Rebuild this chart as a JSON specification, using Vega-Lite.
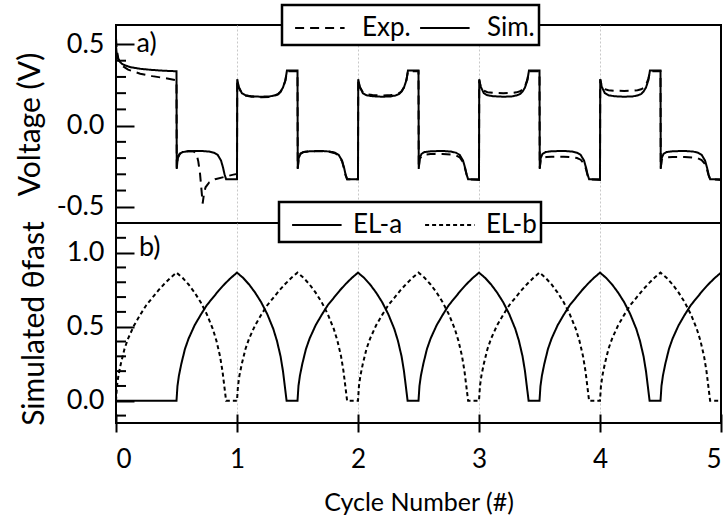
{
"$schema":"https://vega.github.io/schema/vega-lite/v6.json",
"background":"white",
"padding":{"left":14,"top":2,"right":4,"bottom":4},
"bounds":"flush",
"spacing":0,
"config":{
 "font":"Lato",
 "view":{"stroke":"black","strokeWidth":2},
 "axis":{"labelFont":"Lato","titleFont":"Lato","labelColor":"black","titleColor":"black","titleFontWeight":"normal","tickColor":"black","domainColor":"black","labelOverlap":false},
 "legend":{"labelFont":"Lato","labelColor":"black","strokeWidth":2.5}
},
"datasets":{
"volt":[
{"x":0,"v":0.49,"s":"Sim."},{"x":0.005,"v":0.45,"s":"Sim."},{"x":0.015,"v":0.415,"s":"Sim."},{"x":0.03,"v":0.395,"s":"Sim."},{"x":0.05,"v":0.38,"s":"Sim."},{"x":0.08,"v":0.37,"s":"Sim."},{"x":0.12,"v":0.36,"s":"Sim."},{"x":0.2,"v":0.35,"s":"Sim."},{"x":0.3,"v":0.343,"s":"Sim."},{"x":0.4,"v":0.338,"s":"Sim."},{"x":0.5,"v":0.335,"s":"Sim."},
{"x":0.502,"v":-0.267,"s":"Sim."},{"x":0.51,"v":-0.2,"s":"Sim."},{"x":0.525,"v":-0.174,"s":"Sim."},{"x":0.55,"v":-0.163,"s":"Sim."},{"x":0.6,"v":-0.158,"s":"Sim."},{"x":0.7,"v":-0.156,"s":"Sim."},{"x":0.77,"v":-0.16,"s":"Sim."},{"x":0.81,"v":-0.167,"s":"Sim."},{"x":0.84,"v":-0.18,"s":"Sim."},{"x":0.868,"v":-0.215,"s":"Sim."},{"x":0.885,"v":-0.26,"s":"Sim."},{"x":0.897,"v":-0.3,"s":"Sim."},{"x":0.91,"v":-0.33,"s":"Sim."},{"x":1.0,"v":-0.33,"s":"Sim."},
{"x":1.002,"v":0.286,"s":"Sim."},{"x":1.014,"v":0.24,"s":"Sim."},{"x":1.04,"v":0.2,"s":"Sim."},{"x":1.07,"v":0.187,"s":"Sim."},{"x":1.12,"v":0.181,"s":"Sim."},{"x":1.2,"v":0.178,"s":"Sim."},{"x":1.27,"v":0.18,"s":"Sim."},{"x":1.31,"v":0.186,"s":"Sim."},{"x":1.34,"v":0.195,"s":"Sim."},{"x":1.36,"v":0.21,"s":"Sim."},{"x":1.38,"v":0.235,"s":"Sim."},{"x":1.4,"v":0.28,"s":"Sim."},{"x":1.413,"v":0.34,"s":"Sim."},{"x":1.5,"v":0.34,"s":"Sim."},
{"x":1.502,"v":-0.267,"s":"Sim."},{"x":1.51,"v":-0.2,"s":"Sim."},{"x":1.525,"v":-0.174,"s":"Sim."},{"x":1.55,"v":-0.163,"s":"Sim."},{"x":1.6,"v":-0.158,"s":"Sim."},{"x":1.7,"v":-0.156,"s":"Sim."},{"x":1.77,"v":-0.16,"s":"Sim."},{"x":1.81,"v":-0.167,"s":"Sim."},{"x":1.84,"v":-0.18,"s":"Sim."},{"x":1.868,"v":-0.215,"s":"Sim."},{"x":1.885,"v":-0.26,"s":"Sim."},{"x":1.897,"v":-0.3,"s":"Sim."},{"x":1.91,"v":-0.33,"s":"Sim."},{"x":2.0,"v":-0.33,"s":"Sim."},
{"x":2.002,"v":0.286,"s":"Sim."},{"x":2.014,"v":0.24,"s":"Sim."},{"x":2.04,"v":0.2,"s":"Sim."},{"x":2.07,"v":0.187,"s":"Sim."},{"x":2.12,"v":0.181,"s":"Sim."},{"x":2.2,"v":0.178,"s":"Sim."},{"x":2.27,"v":0.18,"s":"Sim."},{"x":2.31,"v":0.186,"s":"Sim."},{"x":2.34,"v":0.195,"s":"Sim."},{"x":2.36,"v":0.21,"s":"Sim."},{"x":2.38,"v":0.235,"s":"Sim."},{"x":2.4,"v":0.28,"s":"Sim."},{"x":2.413,"v":0.34,"s":"Sim."},{"x":2.5,"v":0.34,"s":"Sim."},
{"x":2.502,"v":-0.267,"s":"Sim."},{"x":2.51,"v":-0.2,"s":"Sim."},{"x":2.525,"v":-0.174,"s":"Sim."},{"x":2.55,"v":-0.163,"s":"Sim."},{"x":2.6,"v":-0.158,"s":"Sim."},{"x":2.7,"v":-0.156,"s":"Sim."},{"x":2.77,"v":-0.16,"s":"Sim."},{"x":2.81,"v":-0.167,"s":"Sim."},{"x":2.84,"v":-0.18,"s":"Sim."},{"x":2.868,"v":-0.215,"s":"Sim."},{"x":2.885,"v":-0.26,"s":"Sim."},{"x":2.897,"v":-0.3,"s":"Sim."},{"x":2.91,"v":-0.33,"s":"Sim."},{"x":3.0,"v":-0.33,"s":"Sim."},
{"x":3.002,"v":0.286,"s":"Sim."},{"x":3.014,"v":0.24,"s":"Sim."},{"x":3.04,"v":0.2,"s":"Sim."},{"x":3.07,"v":0.187,"s":"Sim."},{"x":3.12,"v":0.181,"s":"Sim."},{"x":3.2,"v":0.178,"s":"Sim."},{"x":3.27,"v":0.18,"s":"Sim."},{"x":3.31,"v":0.186,"s":"Sim."},{"x":3.34,"v":0.195,"s":"Sim."},{"x":3.36,"v":0.21,"s":"Sim."},{"x":3.38,"v":0.235,"s":"Sim."},{"x":3.4,"v":0.28,"s":"Sim."},{"x":3.413,"v":0.34,"s":"Sim."},{"x":3.5,"v":0.34,"s":"Sim."},
{"x":3.502,"v":-0.267,"s":"Sim."},{"x":3.51,"v":-0.2,"s":"Sim."},{"x":3.525,"v":-0.174,"s":"Sim."},{"x":3.55,"v":-0.163,"s":"Sim."},{"x":3.6,"v":-0.158,"s":"Sim."},{"x":3.7,"v":-0.156,"s":"Sim."},{"x":3.77,"v":-0.16,"s":"Sim."},{"x":3.81,"v":-0.167,"s":"Sim."},{"x":3.84,"v":-0.18,"s":"Sim."},{"x":3.868,"v":-0.215,"s":"Sim."},{"x":3.885,"v":-0.26,"s":"Sim."},{"x":3.897,"v":-0.3,"s":"Sim."},{"x":3.91,"v":-0.33,"s":"Sim."},{"x":4.0,"v":-0.33,"s":"Sim."},
{"x":4.002,"v":0.286,"s":"Sim."},{"x":4.014,"v":0.24,"s":"Sim."},{"x":4.04,"v":0.2,"s":"Sim."},{"x":4.07,"v":0.187,"s":"Sim."},{"x":4.12,"v":0.181,"s":"Sim."},{"x":4.2,"v":0.178,"s":"Sim."},{"x":4.27,"v":0.18,"s":"Sim."},{"x":4.31,"v":0.186,"s":"Sim."},{"x":4.34,"v":0.195,"s":"Sim."},{"x":4.36,"v":0.21,"s":"Sim."},{"x":4.38,"v":0.235,"s":"Sim."},{"x":4.4,"v":0.28,"s":"Sim."},{"x":4.413,"v":0.34,"s":"Sim."},{"x":4.5,"v":0.34,"s":"Sim."},
{"x":4.502,"v":-0.267,"s":"Sim."},{"x":4.51,"v":-0.2,"s":"Sim."},{"x":4.525,"v":-0.174,"s":"Sim."},{"x":4.55,"v":-0.163,"s":"Sim."},{"x":4.6,"v":-0.158,"s":"Sim."},{"x":4.7,"v":-0.156,"s":"Sim."},{"x":4.77,"v":-0.16,"s":"Sim."},{"x":4.81,"v":-0.167,"s":"Sim."},{"x":4.84,"v":-0.18,"s":"Sim."},{"x":4.868,"v":-0.215,"s":"Sim."},{"x":4.885,"v":-0.26,"s":"Sim."},{"x":4.897,"v":-0.3,"s":"Sim."},{"x":4.91,"v":-0.33,"s":"Sim."},{"x":5.0,"v":-0.33,"s":"Sim."},
{"x":0,"v":0.54,"s":"Exp."},{"x":0.006,"v":0.47,"s":"Exp."},{"x":0.02,"v":0.41,"s":"Exp."},{"x":0.05,"v":0.37,"s":"Exp."},{"x":0.1,"v":0.345,"s":"Exp."},{"x":0.2,"v":0.32,"s":"Exp."},{"x":0.3,"v":0.305,"s":"Exp."},{"x":0.4,"v":0.293,"s":"Exp."},{"x":0.5,"v":0.28,"s":"Exp."},
{"x":0.502,"v":-0.26,"s":"Exp."},{"x":0.51,"v":-0.2,"s":"Exp."},{"x":0.53,"v":-0.172,"s":"Exp."},{"x":0.56,"v":-0.162,"s":"Exp."},{"x":0.6,"v":-0.156,"s":"Exp."},{"x":0.64,"v":-0.158,"s":"Exp."},{"x":0.665,"v":-0.175,"s":"Exp."},{"x":0.68,"v":-0.22,"s":"Exp."},{"x":0.695,"v":-0.3,"s":"Exp."},{"x":0.707,"v":-0.4,"s":"Exp."},{"x":0.716,"v":-0.48,"s":"Exp."},{"x":0.727,"v":-0.42,"s":"Exp."},{"x":0.74,"v":-0.38,"s":"Exp."},{"x":0.77,"v":-0.35,"s":"Exp."},{"x":0.82,"v":-0.33,"s":"Exp."},{"x":0.9,"v":-0.315,"s":"Exp."},{"x":0.97,"v":-0.302,"s":"Exp."},{"x":1.0,"v":-0.298,"s":"Exp."},
{"x":1.002,"v":0.28,"s":"Exp."},{"x":1.014,"v":0.235,"s":"Exp."},{"x":1.04,"v":0.198,"s":"Exp."},{"x":1.07,"v":0.185,"s":"Exp."},{"x":1.12,"v":0.178,"s":"Exp."},{"x":1.2,"v":0.175,"s":"Exp."},{"x":1.27,"v":0.177,"s":"Exp."},{"x":1.31,"v":0.183,"s":"Exp."},{"x":1.34,"v":0.193,"s":"Exp."},{"x":1.36,"v":0.208,"s":"Exp."},{"x":1.38,"v":0.233,"s":"Exp."},{"x":1.4,"v":0.278,"s":"Exp."},{"x":1.413,"v":0.335,"s":"Exp."},{"x":1.5,"v":0.335,"s":"Exp."},
{"x":1.502,"v":-0.262,"s":"Exp."},{"x":1.51,"v":-0.198,"s":"Exp."},{"x":1.525,"v":-0.172,"s":"Exp."},{"x":1.55,"v":-0.162,"s":"Exp."},{"x":1.6,"v":-0.158,"s":"Exp."},{"x":1.7,"v":-0.157,"s":"Exp."},{"x":1.77,"v":-0.162,"s":"Exp."},{"x":1.81,"v":-0.17,"s":"Exp."},{"x":1.84,"v":-0.184,"s":"Exp."},{"x":1.868,"v":-0.22,"s":"Exp."},{"x":1.885,"v":-0.265,"s":"Exp."},{"x":1.897,"v":-0.305,"s":"Exp."},{"x":1.91,"v":-0.33,"s":"Exp."},{"x":2.0,"v":-0.33,"s":"Exp."},
{"x":2.002,"v":0.28,"s":"Exp."},{"x":2.014,"v":0.24,"s":"Exp."},{"x":2.04,"v":0.205,"s":"Exp."},{"x":2.07,"v":0.193,"s":"Exp."},{"x":2.12,"v":0.188,"s":"Exp."},{"x":2.2,"v":0.186,"s":"Exp."},{"x":2.27,"v":0.188,"s":"Exp."},{"x":2.31,"v":0.192,"s":"Exp."},{"x":2.34,"v":0.2,"s":"Exp."},{"x":2.36,"v":0.212,"s":"Exp."},{"x":2.38,"v":0.236,"s":"Exp."},{"x":2.4,"v":0.28,"s":"Exp."},{"x":2.413,"v":0.335,"s":"Exp."},{"x":2.5,"v":0.335,"s":"Exp."},
{"x":2.502,"v":-0.26,"s":"Exp."},{"x":2.51,"v":-0.205,"s":"Exp."},{"x":2.53,"v":-0.185,"s":"Exp."},{"x":2.56,"v":-0.178,"s":"Exp."},{"x":2.6,"v":-0.175,"s":"Exp."},{"x":2.7,"v":-0.175,"s":"Exp."},{"x":2.77,"v":-0.178,"s":"Exp."},{"x":2.81,"v":-0.184,"s":"Exp."},{"x":2.84,"v":-0.195,"s":"Exp."},{"x":2.868,"v":-0.225,"s":"Exp."},{"x":2.885,"v":-0.265,"s":"Exp."},{"x":2.897,"v":-0.3,"s":"Exp."},{"x":2.91,"v":-0.33,"s":"Exp."},{"x":3.0,"v":-0.335,"s":"Exp."},
{"x":3.002,"v":0.28,"s":"Exp."},{"x":3.014,"v":0.24,"s":"Exp."},{"x":3.04,"v":0.215,"s":"Exp."},{"x":3.07,"v":0.206,"s":"Exp."},{"x":3.12,"v":0.202,"s":"Exp."},{"x":3.2,"v":0.2,"s":"Exp."},{"x":3.27,"v":0.201,"s":"Exp."},{"x":3.31,"v":0.205,"s":"Exp."},{"x":3.34,"v":0.212,"s":"Exp."},{"x":3.36,"v":0.222,"s":"Exp."},{"x":3.38,"v":0.242,"s":"Exp."},{"x":3.4,"v":0.285,"s":"Exp."},{"x":3.413,"v":0.335,"s":"Exp."},{"x":3.5,"v":0.335,"s":"Exp."},
{"x":3.502,"v":-0.26,"s":"Exp."},{"x":3.51,"v":-0.21,"s":"Exp."},{"x":3.53,"v":-0.197,"s":"Exp."},{"x":3.56,"v":-0.193,"s":"Exp."},{"x":3.6,"v":-0.192,"s":"Exp."},{"x":3.7,"v":-0.192,"s":"Exp."},{"x":3.77,"v":-0.195,"s":"Exp."},{"x":3.81,"v":-0.2,"s":"Exp."},{"x":3.84,"v":-0.21,"s":"Exp."},{"x":3.868,"v":-0.235,"s":"Exp."},{"x":3.885,"v":-0.27,"s":"Exp."},{"x":3.897,"v":-0.305,"s":"Exp."},{"x":3.91,"v":-0.33,"s":"Exp."},{"x":4.0,"v":-0.335,"s":"Exp."},
{"x":4.002,"v":0.285,"s":"Exp."},{"x":4.014,"v":0.245,"s":"Exp."},{"x":4.04,"v":0.225,"s":"Exp."},{"x":4.07,"v":0.218,"s":"Exp."},{"x":4.12,"v":0.215,"s":"Exp."},{"x":4.2,"v":0.214,"s":"Exp."},{"x":4.27,"v":0.215,"s":"Exp."},{"x":4.31,"v":0.218,"s":"Exp."},{"x":4.34,"v":0.224,"s":"Exp."},{"x":4.36,"v":0.232,"s":"Exp."},{"x":4.38,"v":0.25,"s":"Exp."},{"x":4.4,"v":0.29,"s":"Exp."},{"x":4.413,"v":0.335,"s":"Exp."},{"x":4.5,"v":0.335,"s":"Exp."},
{"x":4.502,"v":-0.26,"s":"Exp."},{"x":4.51,"v":-0.21,"s":"Exp."},{"x":4.53,"v":-0.198,"s":"Exp."},{"x":4.56,"v":-0.195,"s":"Exp."},{"x":4.6,"v":-0.194,"s":"Exp."},{"x":4.7,"v":-0.194,"s":"Exp."},{"x":4.77,"v":-0.197,"s":"Exp."},{"x":4.81,"v":-0.202,"s":"Exp."},{"x":4.84,"v":-0.212,"s":"Exp."},{"x":4.868,"v":-0.237,"s":"Exp."},{"x":4.885,"v":-0.272,"s":"Exp."},{"x":4.897,"v":-0.305,"s":"Exp."},{"x":4.91,"v":-0.33,"s":"Exp."},{"x":5.0,"v":-0.335,"s":"Exp."}
],
"theta":[
{"x":0,"t":0,"s":"EL-a"},{"x":0.5,"t":0,"s":"EL-a"},
{"x":0.508,"t":0.1,"s":"EL-a"},{"x":0.52,"t":0.17,"s":"EL-a"},{"x":0.54,"t":0.25,"s":"EL-a"},{"x":0.57,"t":0.35,"s":"EL-a"},{"x":0.6,"t":0.42,"s":"EL-a"},{"x":0.65,"t":0.51,"s":"EL-a"},{"x":0.7,"t":0.58,"s":"EL-a"},{"x":0.75,"t":0.645,"s":"EL-a"},{"x":0.8,"t":0.695,"s":"EL-a"},{"x":0.85,"t":0.745,"s":"EL-a"},{"x":0.9,"t":0.79,"s":"EL-a"},{"x":0.95,"t":0.83,"s":"EL-a"},{"x":1.0,"t":0.865,"s":"EL-a"},
{"x":1.05,"t":0.83,"s":"EL-a"},{"x":1.1,"t":0.785,"s":"EL-a"},{"x":1.15,"t":0.73,"s":"EL-a"},{"x":1.2,"t":0.665,"s":"EL-a"},{"x":1.25,"t":0.585,"s":"EL-a"},{"x":1.3,"t":0.485,"s":"EL-a"},{"x":1.33,"t":0.405,"s":"EL-a"},{"x":1.36,"t":0.3,"s":"EL-a"},{"x":1.38,"t":0.2,"s":"EL-a"},{"x":1.395,"t":0.1,"s":"EL-a"},{"x":1.41,"t":0,"s":"EL-a"},{"x":1.5,"t":0,"s":"EL-a"},
{"x":1.508,"t":0.1,"s":"EL-a"},{"x":1.52,"t":0.17,"s":"EL-a"},{"x":1.54,"t":0.25,"s":"EL-a"},{"x":1.57,"t":0.35,"s":"EL-a"},{"x":1.6,"t":0.42,"s":"EL-a"},{"x":1.65,"t":0.51,"s":"EL-a"},{"x":1.7,"t":0.58,"s":"EL-a"},{"x":1.75,"t":0.645,"s":"EL-a"},{"x":1.8,"t":0.695,"s":"EL-a"},{"x":1.85,"t":0.745,"s":"EL-a"},{"x":1.9,"t":0.79,"s":"EL-a"},{"x":1.95,"t":0.83,"s":"EL-a"},{"x":2.0,"t":0.865,"s":"EL-a"},
{"x":2.05,"t":0.83,"s":"EL-a"},{"x":2.1,"t":0.785,"s":"EL-a"},{"x":2.15,"t":0.73,"s":"EL-a"},{"x":2.2,"t":0.665,"s":"EL-a"},{"x":2.25,"t":0.585,"s":"EL-a"},{"x":2.3,"t":0.485,"s":"EL-a"},{"x":2.33,"t":0.405,"s":"EL-a"},{"x":2.36,"t":0.3,"s":"EL-a"},{"x":2.38,"t":0.2,"s":"EL-a"},{"x":2.395,"t":0.1,"s":"EL-a"},{"x":2.41,"t":0,"s":"EL-a"},{"x":2.5,"t":0,"s":"EL-a"},
{"x":2.508,"t":0.1,"s":"EL-a"},{"x":2.52,"t":0.17,"s":"EL-a"},{"x":2.54,"t":0.25,"s":"EL-a"},{"x":2.57,"t":0.35,"s":"EL-a"},{"x":2.6,"t":0.42,"s":"EL-a"},{"x":2.65,"t":0.51,"s":"EL-a"},{"x":2.7,"t":0.58,"s":"EL-a"},{"x":2.75,"t":0.645,"s":"EL-a"},{"x":2.8,"t":0.695,"s":"EL-a"},{"x":2.85,"t":0.745,"s":"EL-a"},{"x":2.9,"t":0.79,"s":"EL-a"},{"x":2.95,"t":0.83,"s":"EL-a"},{"x":3.0,"t":0.865,"s":"EL-a"},
{"x":3.05,"t":0.83,"s":"EL-a"},{"x":3.1,"t":0.785,"s":"EL-a"},{"x":3.15,"t":0.73,"s":"EL-a"},{"x":3.2,"t":0.665,"s":"EL-a"},{"x":3.25,"t":0.585,"s":"EL-a"},{"x":3.3,"t":0.485,"s":"EL-a"},{"x":3.33,"t":0.405,"s":"EL-a"},{"x":3.36,"t":0.3,"s":"EL-a"},{"x":3.38,"t":0.2,"s":"EL-a"},{"x":3.395,"t":0.1,"s":"EL-a"},{"x":3.41,"t":0,"s":"EL-a"},{"x":3.5,"t":0,"s":"EL-a"},
{"x":3.508,"t":0.1,"s":"EL-a"},{"x":3.52,"t":0.17,"s":"EL-a"},{"x":3.54,"t":0.25,"s":"EL-a"},{"x":3.57,"t":0.35,"s":"EL-a"},{"x":3.6,"t":0.42,"s":"EL-a"},{"x":3.65,"t":0.51,"s":"EL-a"},{"x":3.7,"t":0.58,"s":"EL-a"},{"x":3.75,"t":0.645,"s":"EL-a"},{"x":3.8,"t":0.695,"s":"EL-a"},{"x":3.85,"t":0.745,"s":"EL-a"},{"x":3.9,"t":0.79,"s":"EL-a"},{"x":3.95,"t":0.83,"s":"EL-a"},{"x":4.0,"t":0.865,"s":"EL-a"},
{"x":4.05,"t":0.83,"s":"EL-a"},{"x":4.1,"t":0.785,"s":"EL-a"},{"x":4.15,"t":0.73,"s":"EL-a"},{"x":4.2,"t":0.665,"s":"EL-a"},{"x":4.25,"t":0.585,"s":"EL-a"},{"x":4.3,"t":0.485,"s":"EL-a"},{"x":4.33,"t":0.405,"s":"EL-a"},{"x":4.36,"t":0.3,"s":"EL-a"},{"x":4.38,"t":0.2,"s":"EL-a"},{"x":4.395,"t":0.1,"s":"EL-a"},{"x":4.41,"t":0,"s":"EL-a"},{"x":4.5,"t":0,"s":"EL-a"},
{"x":4.508,"t":0.1,"s":"EL-a"},{"x":4.52,"t":0.17,"s":"EL-a"},{"x":4.54,"t":0.25,"s":"EL-a"},{"x":4.57,"t":0.35,"s":"EL-a"},{"x":4.6,"t":0.42,"s":"EL-a"},{"x":4.65,"t":0.51,"s":"EL-a"},{"x":4.7,"t":0.58,"s":"EL-a"},{"x":4.75,"t":0.645,"s":"EL-a"},{"x":4.8,"t":0.695,"s":"EL-a"},{"x":4.85,"t":0.745,"s":"EL-a"},{"x":4.9,"t":0.79,"s":"EL-a"},{"x":4.95,"t":0.83,"s":"EL-a"},{"x":5.0,"t":0.865,"s":"EL-a"},
{"x":0,"t":0,"s":"EL-b"},
{"x":0.008,"t":0.1,"s":"EL-b"},{"x":0.02,"t":0.17,"s":"EL-b"},{"x":0.04,"t":0.25,"s":"EL-b"},{"x":0.07,"t":0.35,"s":"EL-b"},{"x":0.1,"t":0.42,"s":"EL-b"},{"x":0.15,"t":0.51,"s":"EL-b"},{"x":0.2,"t":0.58,"s":"EL-b"},{"x":0.25,"t":0.645,"s":"EL-b"},{"x":0.3,"t":0.695,"s":"EL-b"},{"x":0.35,"t":0.745,"s":"EL-b"},{"x":0.4,"t":0.79,"s":"EL-b"},{"x":0.45,"t":0.83,"s":"EL-b"},{"x":0.5,"t":0.865,"s":"EL-b"},
{"x":0.55,"t":0.83,"s":"EL-b"},{"x":0.6,"t":0.785,"s":"EL-b"},{"x":0.65,"t":0.73,"s":"EL-b"},{"x":0.7,"t":0.665,"s":"EL-b"},{"x":0.75,"t":0.585,"s":"EL-b"},{"x":0.8,"t":0.485,"s":"EL-b"},{"x":0.83,"t":0.405,"s":"EL-b"},{"x":0.86,"t":0.3,"s":"EL-b"},{"x":0.88,"t":0.2,"s":"EL-b"},{"x":0.895,"t":0.1,"s":"EL-b"},{"x":0.91,"t":0,"s":"EL-b"},{"x":1.0,"t":0,"s":"EL-b"},
{"x":1.008,"t":0.1,"s":"EL-b"},{"x":1.02,"t":0.17,"s":"EL-b"},{"x":1.04,"t":0.25,"s":"EL-b"},{"x":1.07,"t":0.35,"s":"EL-b"},{"x":1.1,"t":0.42,"s":"EL-b"},{"x":1.15,"t":0.51,"s":"EL-b"},{"x":1.2,"t":0.58,"s":"EL-b"},{"x":1.25,"t":0.645,"s":"EL-b"},{"x":1.3,"t":0.695,"s":"EL-b"},{"x":1.35,"t":0.745,"s":"EL-b"},{"x":1.4,"t":0.79,"s":"EL-b"},{"x":1.45,"t":0.83,"s":"EL-b"},{"x":1.5,"t":0.865,"s":"EL-b"},
{"x":1.55,"t":0.83,"s":"EL-b"},{"x":1.6,"t":0.785,"s":"EL-b"},{"x":1.65,"t":0.73,"s":"EL-b"},{"x":1.7,"t":0.665,"s":"EL-b"},{"x":1.75,"t":0.585,"s":"EL-b"},{"x":1.8,"t":0.485,"s":"EL-b"},{"x":1.83,"t":0.405,"s":"EL-b"},{"x":1.86,"t":0.3,"s":"EL-b"},{"x":1.88,"t":0.2,"s":"EL-b"},{"x":1.895,"t":0.1,"s":"EL-b"},{"x":1.91,"t":0,"s":"EL-b"},{"x":2.0,"t":0,"s":"EL-b"},
{"x":2.008,"t":0.1,"s":"EL-b"},{"x":2.02,"t":0.17,"s":"EL-b"},{"x":2.04,"t":0.25,"s":"EL-b"},{"x":2.07,"t":0.35,"s":"EL-b"},{"x":2.1,"t":0.42,"s":"EL-b"},{"x":2.15,"t":0.51,"s":"EL-b"},{"x":2.2,"t":0.58,"s":"EL-b"},{"x":2.25,"t":0.645,"s":"EL-b"},{"x":2.3,"t":0.695,"s":"EL-b"},{"x":2.35,"t":0.745,"s":"EL-b"},{"x":2.4,"t":0.79,"s":"EL-b"},{"x":2.45,"t":0.83,"s":"EL-b"},{"x":2.5,"t":0.865,"s":"EL-b"},
{"x":2.55,"t":0.83,"s":"EL-b"},{"x":2.6,"t":0.785,"s":"EL-b"},{"x":2.65,"t":0.73,"s":"EL-b"},{"x":2.7,"t":0.665,"s":"EL-b"},{"x":2.75,"t":0.585,"s":"EL-b"},{"x":2.8,"t":0.485,"s":"EL-b"},{"x":2.83,"t":0.405,"s":"EL-b"},{"x":2.86,"t":0.3,"s":"EL-b"},{"x":2.88,"t":0.2,"s":"EL-b"},{"x":2.895,"t":0.1,"s":"EL-b"},{"x":2.91,"t":0,"s":"EL-b"},{"x":3.0,"t":0,"s":"EL-b"},
{"x":3.008,"t":0.1,"s":"EL-b"},{"x":3.02,"t":0.17,"s":"EL-b"},{"x":3.04,"t":0.25,"s":"EL-b"},{"x":3.07,"t":0.35,"s":"EL-b"},{"x":3.1,"t":0.42,"s":"EL-b"},{"x":3.15,"t":0.51,"s":"EL-b"},{"x":3.2,"t":0.58,"s":"EL-b"},{"x":3.25,"t":0.645,"s":"EL-b"},{"x":3.3,"t":0.695,"s":"EL-b"},{"x":3.35,"t":0.745,"s":"EL-b"},{"x":3.4,"t":0.79,"s":"EL-b"},{"x":3.45,"t":0.83,"s":"EL-b"},{"x":3.5,"t":0.865,"s":"EL-b"},
{"x":3.55,"t":0.83,"s":"EL-b"},{"x":3.6,"t":0.785,"s":"EL-b"},{"x":3.65,"t":0.73,"s":"EL-b"},{"x":3.7,"t":0.665,"s":"EL-b"},{"x":3.75,"t":0.585,"s":"EL-b"},{"x":3.8,"t":0.485,"s":"EL-b"},{"x":3.83,"t":0.405,"s":"EL-b"},{"x":3.86,"t":0.3,"s":"EL-b"},{"x":3.88,"t":0.2,"s":"EL-b"},{"x":3.895,"t":0.1,"s":"EL-b"},{"x":3.91,"t":0,"s":"EL-b"},{"x":4.0,"t":0,"s":"EL-b"},
{"x":4.008,"t":0.1,"s":"EL-b"},{"x":4.02,"t":0.17,"s":"EL-b"},{"x":4.04,"t":0.25,"s":"EL-b"},{"x":4.07,"t":0.35,"s":"EL-b"},{"x":4.1,"t":0.42,"s":"EL-b"},{"x":4.15,"t":0.51,"s":"EL-b"},{"x":4.2,"t":0.58,"s":"EL-b"},{"x":4.25,"t":0.645,"s":"EL-b"},{"x":4.3,"t":0.695,"s":"EL-b"},{"x":4.35,"t":0.745,"s":"EL-b"},{"x":4.4,"t":0.79,"s":"EL-b"},{"x":4.45,"t":0.83,"s":"EL-b"},{"x":4.5,"t":0.865,"s":"EL-b"},
{"x":4.55,"t":0.83,"s":"EL-b"},{"x":4.6,"t":0.785,"s":"EL-b"},{"x":4.65,"t":0.73,"s":"EL-b"},{"x":4.7,"t":0.665,"s":"EL-b"},{"x":4.75,"t":0.585,"s":"EL-b"},{"x":4.8,"t":0.485,"s":"EL-b"},{"x":4.83,"t":0.405,"s":"EL-b"},{"x":4.86,"t":0.3,"s":"EL-b"},{"x":4.88,"t":0.2,"s":"EL-b"},{"x":4.895,"t":0.1,"s":"EL-b"},{"x":4.91,"t":0,"s":"EL-b"},{"x":5.0,"t":0,"s":"EL-b"}
]
},
"vconcat":[
{
 "width":605,"height":198,
 "layer":[
  {"data":{"name":"volt"},
   "mark":{"type":"line","strokeWidth":2,"color":"black"},
   "encoding":{
    "x":{"field":"x","type":"quantitative","scale":{"domain":[0,5],"nice":false,"zero":false},
         "axis":{"title":null,"labels":false,"ticks":false,"domain":false,"grid":true,"values":[1,2,3,4],"gridColor":"#c8c8c8","gridDash":[2,2],"gridWidth":1}},
    "y":{"field":"v","type":"quantitative","scale":{"domain":[-0.6,0.62],"nice":false,"zero":false},
         "axis":{"title":"Voltage (V)","values":[-0.5,0,0.5],
          "labelExpr":"datum.value == 0 ? '0.0' : toString(datum.value)",
          "tickSize":-18,"tickWidth":2,"domain":false,"grid":false,"labelFontSize":27,"labelPadding":30,"titleFontSize":30,"titlePadding":11}},
    "strokeDash":{"field":"s","type":"nominal","scale":{"domain":["Exp.","Sim."],"range":[[9,6],[1,0]]},
      "legend":{"orient":"none","legendX":166,"legendY":-20,"direction":"horizontal","title":null,"symbolType":"M-0.55,0H2.2","symbolSize":1296,"symbolStrokeWidth":2,"symbolStrokeColor":"black","symbolFillColor":"transparent","labelFontSize":26,"labelOffset":38,"columnPadding":0,"padding":4,"strokeColor":"black","fillColor":"white"}}
   }},
  {"data":{"values":[{"x":0,"v":-0.4},{"x":0,"v":-0.3},{"x":0,"v":-0.2},{"x":0,"v":-0.1},{"x":0,"v":0.1},{"x":0,"v":0.2},{"x":0,"v":0.3},{"x":0,"v":0.4}]},
   "mark":{"type":"point","shape":"M0,0H2","size":100,"filled":false,"stroke":"black","strokeWidth":2,"opacity":1},
   "encoding":{"x":{"field":"x","type":"quantitative"},"y":{"field":"v","type":"quantitative"}}},
  {"data":{"values":[{"x":0.17,"v":0.5,"lab":"a)"}]},
   "mark":{"type":"text","align":"left","baseline":"middle","fontSize":27,"font":"Lato","color":"black"},
   "encoding":{"x":{"field":"x","type":"quantitative"},"y":{"field":"v","type":"quantitative"},"text":{"field":"lab"}}}
 ]
},
{
 "width":605,"height":200,
 "layer":[
  {"data":{"name":"theta"},
   "mark":{"type":"line","strokeWidth":2,"color":"black"},
   "encoding":{
    "x":{"field":"x","type":"quantitative","scale":{"domain":[0,5],"nice":false,"zero":false},
         "axis":{"title":"Cycle Number (#)","values":[0,1,2,3,4,5],"format":"d","domain":false,"offset":-9,"tickSize":18,"tickWidth":2,"labelFontSize":26,"labelPadding":14,"titleFontSize":25,"titlePadding":18,"grid":true,"gridColor":"#c8c8c8","gridDash":[2,2],"gridWidth":1,
          "gridOpacity":{"condition":{"test":"datum.value == 0 || datum.value == 5","value":0},"value":1}}},
    "y":{"field":"t","type":"quantitative","scale":{"domain":[-0.15,1.2],"nice":false,"zero":false},
         "axis":{"title":"Simulated  θfast","values":[0,0.5,1],
          "labelExpr":"format(datum.value, '.1f')",
          "tickSize":-18,"tickWidth":2,"domain":false,"grid":false,"labelFontSize":27,"labelPadding":30,"titleFontSize":30,"titlePadding":17}},
    "strokeDash":{"field":"s","type":"nominal","scale":{"domain":["EL-a","EL-b"],"range":[[1,0],[4,3]]},
      "legend":{"orient":"none","legendX":163,"legendY":-21,"direction":"horizontal","title":null,"symbolType":"M-0.55,0H2.2","symbolSize":1296,"symbolStrokeWidth":2,"symbolStrokeColor":"black","symbolFillColor":"transparent","labelFontSize":26,"labelOffset":32,"columnPadding":13,"padding":4,"strokeColor":"black","fillColor":"white"}}
   }},
  {"data":{"values":[{"x":0,"t":-0.1},{"x":0,"t":0.1},{"x":0,"t":0.2},{"x":0,"t":0.3},{"x":0,"t":0.4},{"x":0,"t":0.6},{"x":0,"t":0.7},{"x":0,"t":0.8},{"x":0,"t":0.9},{"x":0,"t":1.1}]},
   "mark":{"type":"point","shape":"M0,0H2","size":100,"filled":false,"stroke":"black","strokeWidth":2,"opacity":1},
   "encoding":{"x":{"field":"x","type":"quantitative"},"y":{"field":"t","type":"quantitative"}}},
  {"data":{"values":[{"x":0.19,"t":1.03,"lab":"b)"}]},
   "mark":{"type":"text","align":"left","baseline":"middle","fontSize":27,"font":"Lato","color":"black"},
   "encoding":{"x":{"field":"x","type":"quantitative"},"y":{"field":"t","type":"quantitative"},"text":{"field":"lab"}}}
 ]
}
],
"resolve":{"scale":{"strokeDash":"independent"},"legend":{"strokeDash":"independent"}}
}
